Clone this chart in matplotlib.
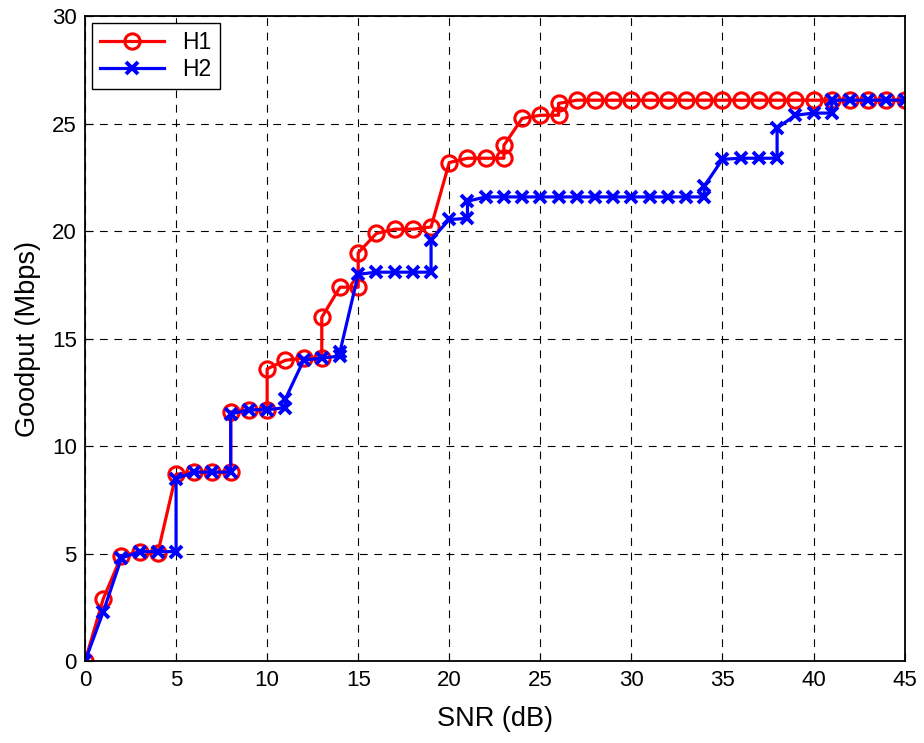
import matplotlib
matplotlib.use("Agg")
import matplotlib.pyplot as plt

plt.rcParams['font.family'] = ['Liberation Sans', 'DejaVu Sans']

# SNR values (repeated x gives the vertical steps)
snr_h1 = [0, 1, 2, 3, 4, 5, 6, 7, 8, 8, 9, 10, 10, 11, 12, 13, 13, 14, 15, 15,
          16, 17, 18, 19, 20, 21, 22, 23, 23, 24, 25, 26, 26, 27, 28, 29, 30,
          31, 32, 33, 34, 35, 36, 37, 38, 39, 40, 41, 42, 43, 44, 45]
goodput_h1 = [0, 2.9, 4.9, 5.1, 5.05, 8.7, 8.8, 8.8, 8.8, 11.6, 11.7, 11.7, 13.6,
              14.0, 14.1, 14.1, 16.0, 17.4, 17.4, 19.0, 19.9, 20.1, 20.1, 20.2,
              23.2, 23.4, 23.4, 23.4, 24.0, 25.25, 25.4, 25.4, 25.95, 26.1, 26.1,
              26.1, 26.1, 26.1, 26.1, 26.1, 26.1, 26.1, 26.1, 26.1, 26.1, 26.1,
              26.1, 26.1, 26.1, 26.1, 26.1, 26.1]

snr_h2 = [0, 1, 2, 3, 4, 5, 5, 6, 7, 8, 8, 9, 10, 11, 11, 12, 13, 14, 14, 15,
          16, 17, 18, 19, 19, 20, 21, 21, 22, 23, 24, 25, 26, 27, 28, 29, 30,
          31, 32, 33, 34, 34, 35, 36, 37, 38, 38, 39, 40, 41, 41, 42, 43, 44, 45]
goodput_h2 = [0, 2.3, 4.8, 5.1, 5.1, 5.1, 8.5, 8.8, 8.8, 8.8, 11.5, 11.7, 11.7,
              11.8, 12.2, 14.0, 14.1, 14.2, 14.4, 18.0, 18.1, 18.1, 18.1, 18.1,
              19.6, 20.55, 20.6, 21.4, 21.6, 21.6, 21.6, 21.6, 21.6, 21.6, 21.6,
              21.6, 21.6, 21.6, 21.6, 21.6, 21.6, 22.1, 23.35, 23.4, 23.4, 23.4,
              24.8, 25.4, 25.5, 25.5, 26.1, 26.1, 26.1, 26.1, 26.1]

fig = plt.figure(figsize=(9.24, 7.43), dpi=100)
ax = fig.add_axes([0.092, 0.110, 0.887, 0.868])

ax.plot(snr_h1, goodput_h1, color='red', marker='o', markersize=11,
        markerfacecolor='none', markeredgewidth=2.2, linewidth=2.3, label='H1')
ax.plot(snr_h2, goodput_h2, color='blue', marker='x', markersize=9,
        markeredgewidth=2.8, linewidth=2.3, label='H2')

ax.set_xlim(0, 45)
ax.set_ylim(0, 30)
ax.set_xticks(range(0, 46, 5))
ax.set_yticks(range(0, 31, 5))
ax.grid(True, color='black', linestyle=(0, (7, 6)), linewidth=0.8)
ax.tick_params(labelsize=16, direction='in', length=6, pad=6)
for s in ax.spines.values():
    s.set_linewidth(1.3)

ax.set_xlabel('SNR (dB)', fontsize=19.5, labelpad=11)
ax.set_ylabel('Goodput (Mbps)', fontsize=19.5, labelpad=8)

leg = ax.legend(loc='upper left', fontsize=16.5, fancybox=False, framealpha=1,
                edgecolor='black', handlelength=2.8, borderaxespad=0.3,
                borderpad=0.35, labelspacing=0.15, handletextpad=0.8)
leg.get_frame().set_linewidth(1.0)

fig.savefig('out.png', dpi=100)
